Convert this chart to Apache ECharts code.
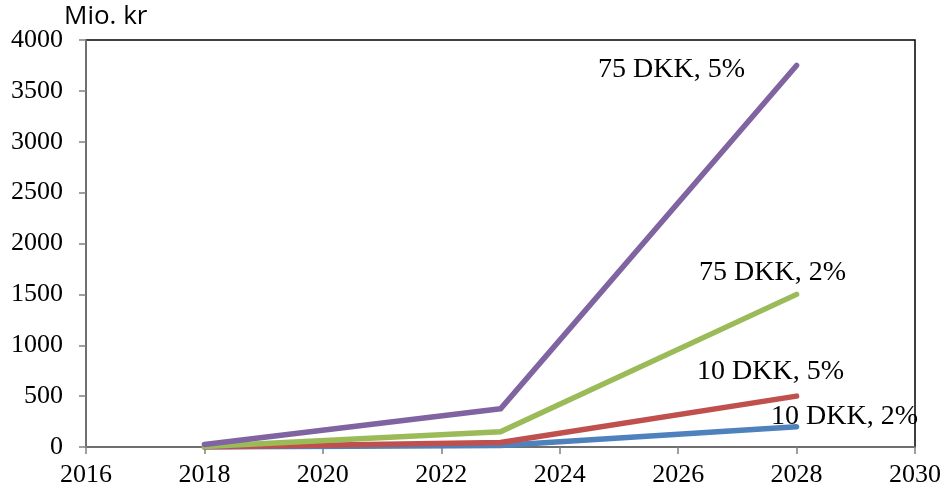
<!DOCTYPE html>
<html>
<head>
<meta charset="utf-8">
<script src="https://cdn.jsdelivr.net/npm/echarts@6/dist/echarts.min.js"></script>
<style>
  html, body { margin: 0; padding: 0; background: #fff; }
  #chart { width: 944px; height: 491px; }
</style>
</head>
<body>
<div id="chart"></div>
<script>
// Years on the horizontal axis
const years = [2018, 2023, 2028];

// Cost in mio. kr for each price / growth scenario
const dkk10pct2 = [0, 15, 200];
const dkk10pct5 = [0, 45, 500];
const dkk75pct2 = [5, 150, 1500];
const dkk75pct5 = [25, 375, 3750];

const seriesNames = ['10 DKK, 2%', '10 DKK, 5%', '75 DKK, 2%', '75 DKK, 5%'];

const colors = ['#4F81BD', '#C0504D', '#9BBB59', '#8064A2'];
const labelOffsets = [[48, -10], [-26, -24], [-24, -22], [-125, 4]];

const serif = '"Liberation Serif", "Times New Roman", serif';

function pairs(vals) {
  return years.map((y, i) => [y, vals[i]]);
}

const valueSets = [dkk10pct2, dkk10pct5, dkk75pct2, dkk75pct5];

const series = valueSets.map((vals, s) => {
  const data = pairs(vals).map((p, i) => {
    if (i === years.length - 1) {
      return {
        value: p,
        label: {
          show: true,
          formatter: seriesNames[s],
          position: 'inside',
          offset: labelOffsets[s],
          fontFamily: serif,
          fontSize: 28,
          color: '#000'
        }
      };
    }
    return p;
  });
  return {
    name: seriesNames[s],
    type: 'line',
    data: data,
    symbol: 'circle',
    symbolSize: 1,
    showSymbol: true,
    lineStyle: { width: 5.5, color: colors[s], cap: 'round', join: 'round' },
    itemStyle: { color: colors[s] },
    label: { show: false },
    z: 2 + s,
    silent: true,
    animation: false
  };
});

const chart = echarts.init(document.getElementById('chart'), null, { renderer: 'canvas' });
chart.setOption({
  animation: false,
  grid: {
    left: 86, right: 29, top: 40, bottom: 44,
    show: true,
    borderColor: '#000',
    borderWidth: 1.5,
    backgroundColor: 'transparent'
  },
  graphic: [{
    type: 'text',
    left: 64, top: 4,
    style: {
      text: 'Mio. kr',
      font: '26px "Open Sans", "Liberation Sans", sans-serif',
      fill: '#000'
    }
  }],
  xAxis: {
    type: 'value',
    min: 2016, max: 2030, interval: 2,
    axisLine: { show: true, lineStyle: { color: '#808080', width: 1.5 } },
    axisTick: { show: true, inside: false, length: 7, lineStyle: { color: '#808080', width: 1.5 } },
    splitLine: { show: false },
    axisLabel: { color: '#000', fontFamily: serif, fontSize: 26, margin: 15, formatter: v => String(v) }
  },
  yAxis: {
    type: 'value',
    min: 0, max: 4000, interval: 500,
    axisLine: { show: true, lineStyle: { color: '#808080', width: 1.5 } },
    axisTick: { show: true, inside: false, length: 7, lineStyle: { color: '#808080', width: 1.5 } },
    splitLine: { show: false },
    axisLabel: { color: '#000', fontFamily: serif, fontSize: 26, margin: 23, formatter: v => String(v) }
  },
  series: series
});
</script>
</body>
</html>
